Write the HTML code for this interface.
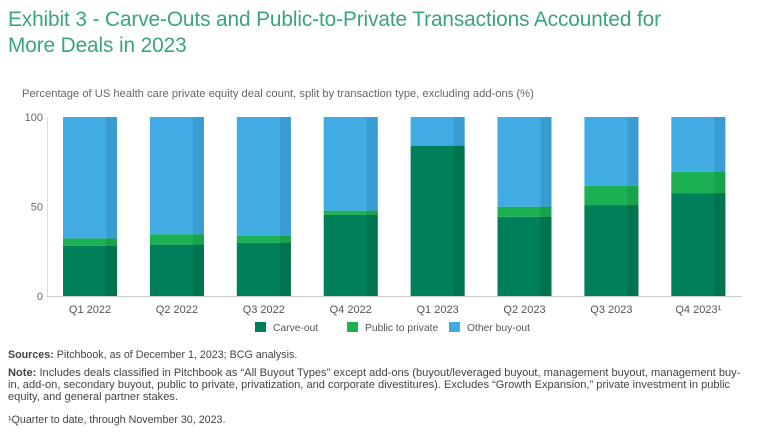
<!DOCTYPE html>
<html><head><meta charset="utf-8">
<style>
body{margin:0;width:768px;height:436px;background:#fff;font-family:"Liberation Sans",sans-serif;position:relative;overflow:hidden}
.t{position:absolute;left:8px;top:7px;font-size:20.8px;line-height:26px;color:#3aa57a;letter-spacing:-0.1px}
.sub{position:absolute;left:22px;top:88px;font-size:11.2px;color:#666}
.fn{position:absolute;left:8px;font-size:10.7px;color:#444;line-height:12px;width:760px;white-space:nowrap}
b{color:#444}
svg{position:absolute;left:0;top:0}
</style></head><body>
<div class="t">Exhibit 3 - Carve-Outs and Public-to-Private Transactions Accounted for<br>More Deals in 2023</div>
<div class="sub">Percentage of US health care private equity deal count, split by transaction type, excluding add-ons (%)</div>
<svg id="c" width="768" height="436"></svg>
<div class="fn" style="top:349px"><b>Sources:</b> Pitchbook, as of December 1, 2023; BCG analysis.</div>
<div class="fn" style="top:367px;font-size:11.1px"><b>Note:</b> Includes deals classified in Pitchbook as “All Buyout Types” except add-ons (buyout/leveraged buyout, management buyout, management buy-<br>in, add-on, secondary buyout, public to private, privatization, and corporate divestitures). Excludes “Growth Expansion,” private investment in public<br>equity, and general partner stakes.</div>
<div class="fn" style="top:414px">¹Quarter to date, through November 30, 2023.</div>
<script>
const categories=["Q1 2022","Q2 2022","Q3 2022","Q4 2022","Q1 2023","Q2 2023","Q3 2023","Q4 2023¹"];
const carveOut=[28.1,28.7,29.8,45.3,84,44.3,50.8,57.5];
const publicToPrivate=[4.1,5.8,3.9,2.4,0,5.6,10.7,11.9];
const otherBuyout=[67.8,65.5,66.3,52.3,16,50.1,38.5,30.6];
const yTicks=[0,50,100];
const NS="http://www.w3.org/2000/svg",svg=document.getElementById('c');
const y0=296,y1=117,x0=63,step=86.9,bw=54;
const y=v=>y0-(y0-y1)*v/100;
const x=i=>x0+i*step;
function mk(t,a,p){const e=document.createElementNS(NS,t);for(const k in a)e.setAttribute(k,a[k]);(p||svg).appendChild(e);return e;}
const ax=mk('line',{x1:47,x2:742,y1:y0+0.5,y2:y0+0.5,stroke:'#ccc','stroke-width':1});


const ay=mk('line',{x1:47.5,x2:47.5,y1:y1,y2:y0,stroke:'#ddd','stroke-width':1});


yTicks.forEach(v=>{const t=mk('text',{x:43,y:y(v)+4,'text-anchor':'end','font-size':11,fill:'#666'});t.textContent=v;

});
const series=[[carveOut,'#00805a','#00734f'],[publicToPrivate,'#1bb152','#17a34a'],[otherBuyout,'#41ace3','#3a9dd2']];
categories.forEach((c,i)=>{let acc=0;
 const g=mk('g',{});
 
 
 series.forEach(([d,col,dk])=>{const v=d[i];if(v<=0)return;const top=y(acc+v),bot=y(acc);acc+=v;
  const r=mk('rect',{x:x(i),y:top,width:bw,height:bot-top,fill:col},g);
  
  
  const s=mk('rect',{x:x(i)+bw-11,y:top,width:11,height:bot-top,fill:dk},g);
  
  });
 const t=mk('text',{x:x(i)+bw/2,y:313,'text-anchor':'middle','font-size':11,fill:'#555'});t.textContent=c;
 
 });
const leg=[["Carve-out",'#00805a',255],["Public to private",'#1bb152',347],["Other buy-out",'#41ace3',449]];
leg.forEach(([n,col,lx])=>{const r=mk('rect',{x:lx,y:322,width:11,height:10,fill:col});


const t=mk('text',{x:lx+18,y:331,'font-size':10.3,fill:'#555'});t.textContent=n;

});
</script>
</body></html>
